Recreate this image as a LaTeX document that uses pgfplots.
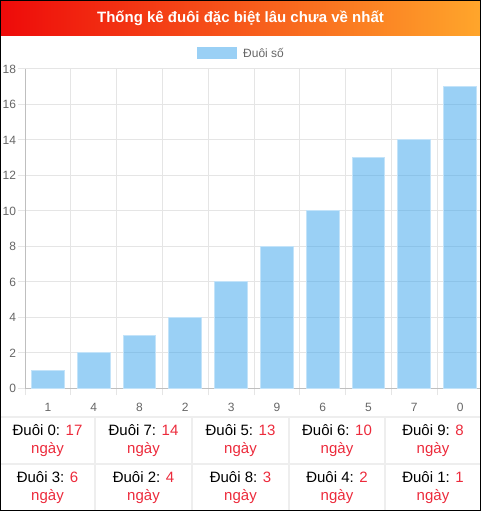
\documentclass[border=0pt]{standalone}
\usepackage{pgfplots}
\pgfplotsset{compat=1.18}
\usepackage{fontspec}
\setmainfont{Liberation Sans}
\definecolor{barblue}{RGB}{54,162,235}
\definecolor{tickgray}{HTML}{666666}
\definecolor{numred}{HTML}{EC2A3B}
\definecolor{cellline}{HTML}{EEEEEE}
\definecolor{titlered}{HTML}{EE0A0A}
\definecolor{titleorange}{HTML}{FFA62B}

\begin{document}
\begin{tikzpicture}[x=1pt,y=1pt]
\path (0,0) rectangle (481,511);
% title bar
\shade[left color=titlered, right color=titleorange] (0,475) rectangle (481,511);
\node[white, font=\bfseries\fontsize{15}{18}\selectfont] at (240.5,493) {Thống kê đuôi đặc biệt lâu chưa về nhất};
% legend
\fill[barblue, fill opacity=0.5] (197,452) rectangle (237,464);
\node[anchor=west, text=tickgray, font=\fontsize{12}{14}\selectfont, inner sep=0pt] at (243,458) {Đuôi số};

\begin{axis}[
    at={(25pt,122.5pt)}, anchor=south west,
    scale only axis, width=458pt, height=319.5pt,
    xmin=-0.5, xmax=9.5, ymin=0, ymax=18,
    ytick={0,2,...,18},
    xtick={0,...,9},
    xticklabels={1,4,8,2,3,9,6,5,7,0},
    minor xtick={-0.5,0.5,...,9.5},
    xminorgrids, ymajorgrids,
    grid style={draw=black!10, line width=1pt},
    minor grid style={draw=black!10, line width=1pt},
    axis x line=bottom, axis y line=left,
    axis line style={draw=black!25, line width=1pt, -},
    tick align=outside,
    major tick length=7pt, minor tick length=7pt,
    y tick style={draw=black!10, line width=1pt},
    xtick style={draw=none},
    minor x tick style={draw=black!10, line width=1pt},
    ticklabel style={text=tickgray, font=\fontsize{12}{14}\selectfont},
    yticklabel style={anchor=east, xshift=1.5pt},
    xticklabel style={yshift=-4pt},
    /pgf/number format/assume math mode=true,
]
\addplot[ybar, bar width=0.72, fill=barblue, fill opacity=0.5, draw=barblue!30, line width=1pt]
  coordinates {(0,1) (1,2) (2,3) (3,4) (4,6) (5,8) (6,10) (7,13) (8,14) (9,17)};
\end{axis}

% table
\draw[cellline, line width=2pt] (0,94) -- (481,94);
\draw[cellline, line width=2pt] (0,47) -- (481,47);
\foreach \xx in {95,192,289,385} {\draw[cellline, line width=2pt] (\xx,0) -- (\xx,94);}
\begin{scope}[every node/.style={align=center, font=\fontsize{15}{18}\selectfont}]
\node at (47.5,70) {Đuôi 0: \textcolor{numred}{17}\\\textcolor{numred}{ngày}};
\node at (143.5,70) {Đuôi 7: \textcolor{numred}{14}\\\textcolor{numred}{ngày}};
\node at (240.5,70) {Đuôi 5: \textcolor{numred}{13}\\\textcolor{numred}{ngày}};
\node at (337,70) {Đuôi 6: \textcolor{numred}{10}\\\textcolor{numred}{ngày}};
\node at (433,70) {Đuôi 9: \textcolor{numred}{8}\\\textcolor{numred}{ngày}};
\node at (47.5,23) {Đuôi 3: \textcolor{numred}{6}\\\textcolor{numred}{ngày}};
\node at (143.5,23) {Đuôi 2: \textcolor{numred}{4}\\\textcolor{numred}{ngày}};
\node at (240.5,23) {Đuôi 8: \textcolor{numred}{3}\\\textcolor{numred}{ngày}};
\node at (337,23) {Đuôi 4: \textcolor{numred}{2}\\\textcolor{numred}{ngày}};
\node at (433,23) {Đuôi 1: \textcolor{numred}{1}\\\textcolor{numred}{ngày}};
\end{scope}
\draw[black, line width=1pt] (0.5,0.5) rectangle (480.5,510.5);
\pgfresetboundingbox
\path (0,0) rectangle (481,511);
\end{tikzpicture}
\end{document}
